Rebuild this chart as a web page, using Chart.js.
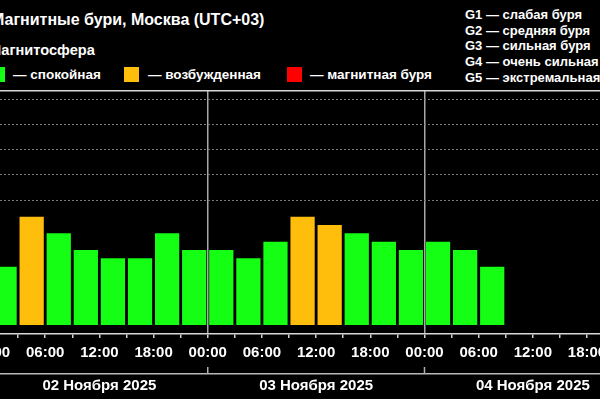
<!DOCTYPE html>
<html>
<head>
<meta charset="utf-8">
<script src="https://cdn.jsdelivr.net/npm/chart.js@4"></script>
<style>
  body { margin: 0; background: #000; width: 600px; height: 399px; overflow: hidden; position: relative;
         font-family: "Liberation Sans", Arial, sans-serif; font-weight: bold; color: #fff; }
  .txt { position: absolute; white-space: nowrap; }
  #title { left: -9px; top: 10px; font-size: 16px; line-height: 20px; }
  #sub { left: -11px; top: 41px; font-size: 14.6px; line-height: 18px; }
  .sq { position: absolute; top: 67px; width: 15px; height: 15px; }
  .lg { top: 66px; font-size: 13.5px; line-height: 17px; }
  #glist { left: 465px; top: 7px; font-size: 13px; line-height: 15.7px; }
  #wrap { position: absolute; left: -60px; top: 0; width: 720px; height: 399px; }
</style>
</head>
<body>
<div id="title" class="txt"></div>
<div id="sub" class="txt"></div>
<div id="legend"></div>
<div id="glist" class="txt"></div>
<div id="wrap"><canvas id="kp_chart" width="720" height="399"></canvas></div>
<script>
// Kp index per 3-hour interval, one array per day
const kpNov02 = [2.33, 4.33, 3.67, 3, 2.67, 2.67, 3.67, 3];
const kpNov03 = [3, 2.67, 3.33, 4.33, 4, 3.67, 3.33, 3];
const kpNov04 = [3.33, 3, 2.33];

const dayLabels = ['02 Ноября 2025', '03 Ноября 2025', '04 Ноября 2025'];
const timeLabels = ['00:00', '06:00', '12:00', '18:00'];
const stormLevels = [5, 6, 7, 8, 9]; // G1..G5 thresholds
const stateLabels = ['— спокойная', '— возбужденная', '— магнитная буря'];
const stormLabels = ['G1 — слабая буря', 'G2 — средняя буря', 'G3 — сильная буря', 'G4 — очень сильная', 'G5 — экстремальная'];

const GREEN = '#14ff14';
const ORANGE = '#ffbd0c';
const RED = '#ff0000';

// header texts
document.getElementById('title').textContent = 'Магнитные бури, Москва (UTC+03)';
document.getElementById('sub').textContent = 'Магнитосфера';
document.getElementById('glist').innerHTML = stormLabels.join('<br>');

const legendPos = [[-10, 13], [124, 148], [287, 310]];
const legendColors = [GREEN, ORANGE, RED];
document.getElementById('legend').innerHTML = stateLabels.map((t, i) =>
    `<div class="sq" style="left:${legendPos[i][0]}px;background:${legendColors[i]}"></div>` +
    `<div class="txt lg" style="left:${legendPos[i][1]}px">${t}</div>`).join('');

const kpValues = [...kpNov02, ...kpNov03, ...kpNov04];
const kpData = kpValues.map((v, i) => ({ x: i * 3 + 1.5, y: v }));

const xMin = -5.65, xMax = 74.08;
const tickFont = { family: 'Liberation Sans', size: 15, weight: 'bold' };

const dayMarks = {
    id: 'dayMarks',
    afterDraw(chart) {
        const x = chart.scales.x, x2 = chart.scales.x2, ctx = chart.ctx;
        ctx.save();
        ctx.strokeStyle = '#b0b0b0';
        ctx.lineWidth = 1.5;
        [0, 24, 48, 72].forEach(h => {
            const px = x.getPixelForValue(h);
            ctx.beginPath();
            ctx.moveTo(px, x2.top - 7);
            ctx.lineTo(px, x2.top);
            ctx.stroke();
        });
        ctx.restore();
    }
};

const kp_chart = new Chart(document.getElementById('kp_chart').getContext('2d'), {
    type: 'bar',
    data: {
        datasets: [{
            data: kpData,
            backgroundColor: c => c.raw.y >= 5 ? RED : (c.raw.y >= 4 ? ORANGE : GREEN),
            borderWidth: 0,
            barPercentage: 0.895,
            categoryPercentage: 1
        }]
    },
    options: {
        responsive: false,
        animation: false,
        layout: { padding: { top: 91, left: 0, right: 0, bottom: 0 } },
        plugins: { legend: { display: false }, tooltip: { enabled: false } },
        scales: {
            x: {
                type: 'linear', position: 'bottom', min: xMin, max: xMax, offset: false,
                afterBuildTicks: s => { s.ticks = []; for (let h = 0; h <= 69; h += 3) s.ticks.push({ value: h }); },
                afterFit: s => { s.height = 40; },
                ticks: {
                    autoSkip: false, maxRotation: 0, color: '#fff', font: tickFont, padding: 6,
                    callback: v => v % 6 === 0 ? timeLabels[(v % 24) / 6] : ''
                },
                grid: {
                    offset: false, drawOnChartArea: true, tickLength: 4, tickColor: '#d0d0d0', tickWidth: 1.5,
                    color: c => c.tick && c.tick.value % 24 === 0 ? '#a8a8a8' : 'rgba(0,0,0,0)', lineWidth: 1.5
                },
                border: { color: '#d8d8d8', width: 1.5 }
            },
            x2: {
                type: 'linear', position: 'bottom', min: xMin, max: xMax, offset: false,
                afterBuildTicks: s => { s.ticks = dayLabels.map((d, i) => ({ value: i * 24 + 12 })); },
                afterFit: s => { s.height = 25; },
                ticks: {
                    autoSkip: false, maxRotation: 0, color: '#fff', font: tickFont, padding: 3,
                    callback: v => dayLabels[(v - 12) / 24]
                },
                grid: { offset: false, drawOnChartArea: false, drawTicks: false },
                border: { color: '#b8b8b8', width: 1.5 }
            },
            xTop: {
                type: 'linear', position: 'top', min: xMin, max: xMax,
                afterFit: s => { s.height = 0; },
                ticks: { display: false },
                grid: { drawOnChartArea: false, drawTicks: false },
                border: { color: '#d8d8d8', width: 1.5 }
            },
            y: {
                min: -0.36, max: 9.36,
                afterBuildTicks: s => { s.ticks = stormLevels.map(v => ({ value: v })); },
                afterFit: s => { s.width = 0; },
                ticks: { display: false },
                grid: { drawTicks: false, color: '#7a7a7a', lineWidth: 1 },
                border: { display: false, dash: [2, 2] }
            }
        }
    },
    plugins: [dayMarks]
});
</script>
</body>
</html>
